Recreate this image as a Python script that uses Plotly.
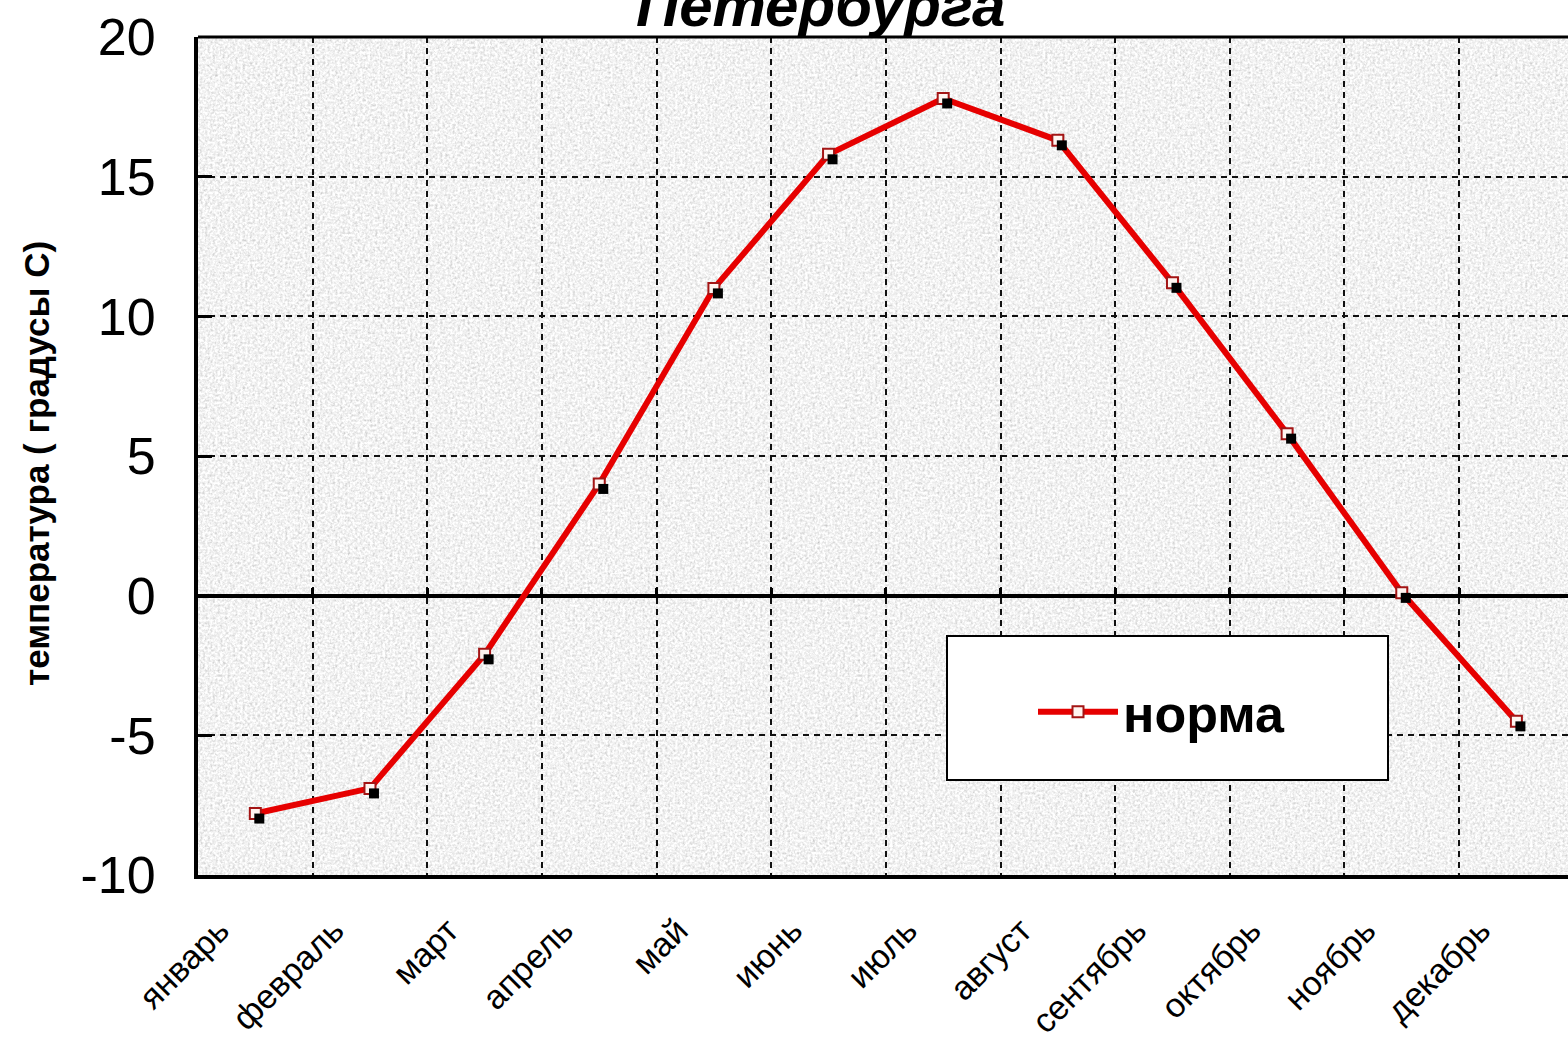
import base64
import plotly.graph_objects as go

months = ["январь", "февраль", "март", "апрель", "май", "июнь",
          "июль", "август", "сентябрь", "октябрь", "ноябрь", "декабрь"]
norma = [-7.8, -6.9, -2.1, 4.0, 11.0, 15.8, 17.8, 16.3, 11.2, 5.8, 0.1, -4.5]
y_ticks = [-10, -5, 0, 5, 10, 15, 20]
y_tick_labels = ["-10", "-5", "0", "5", "10", "15", "20"]
series_name = "норма"
y_title = "температура ( градусы С)"
title_visible = "Петербурга"

W, H = 1568, 1059
L, T, B, R = 198, 37, 184, 0
PW, PH = W - L - R, H - T - B
X_RANGE = [-0.5, 11.45]
Y_RANGE = [-10, 20]
px_per_cat = PW / (X_RANGE[1] - X_RANGE[0])
px_per_unit = PH / (Y_RANGE[1] - Y_RANGE[0])

FONT = "Liberation Sans, Arial, sans-serif"

# granite-like texture for the plot background
svg = (
    "<svg xmlns='http://www.w3.org/2000/svg' width='%d' height='%d'>"
    "<filter id='f' x='0' y='0' width='100%%' height='100%%'>"
    "<feTurbulence type='fractalNoise' baseFrequency='0.4' numOctaves='4' seed='7' stitchTiles='stitch'/>"
    "<feColorMatrix type='saturate' values='0'/>"
    "<feComponentTransfer>"
    "<feFuncR type='linear' slope='0.9' intercept='0.44'/>"
    "<feFuncG type='linear' slope='0.9' intercept='0.44'/>"
    "<feFuncB type='linear' slope='0.9' intercept='0.44'/>"
    "<feFuncA type='linear' slope='0' intercept='1'/>"
    "</feComponentTransfer></filter>"
    "<rect width='100%%' height='100%%' filter='url(#f)'/></svg>" % (PW, PH)
)
bg_uri = "data:image/svg+xml;base64," + base64.b64encode(svg.encode()).decode()

fig = go.Figure()

# shadow squares (offset a few px right/down via shifted overlay axes)
fig.add_trace(go.Scatter(
    x=months, y=norma, mode="markers", xaxis="x2", yaxis="y2",
    marker=dict(symbol="square", size=10, color="black"),
    showlegend=False, hoverinfo="skip"))

# main series
fig.add_trace(go.Scatter(
    x=months, y=norma, mode="lines+markers", name=series_name,
    line=dict(color="#e60000", width=6),
    marker=dict(symbol="square", size=11, color="#fff4f0",
                line=dict(color="#a31515", width=2))))

# invisible carrier trace for the tick marks along the zero line
fig.add_trace(go.Scatter(
    x=months, y=norma, mode="markers", xaxis="x3", yaxis="y",
    marker=dict(opacity=0), showlegend=False, hoverinfo="skip"))

dx = 4 / px_per_cat
dy = 5 / px_per_unit

grid = dict(showgrid=True, gridcolor="#111", gridwidth=2, griddash="6px,5px")

fig.update_layout(
    width=W, height=H,
    margin=dict(l=L, r=R, t=T, b=B, pad=0),
    paper_bgcolor="white", plot_bgcolor="#e2e2e2",
    font=dict(family=FONT, color="black"),
    xaxis=dict(type="category", categoryarray=months, range=X_RANGE,
               tickson="boundaries", ticks="", **grid,
               showline=True, linecolor="black", linewidth=4,
               tickangle=-45, tickfont=dict(size=34, family=FONT),
               ticklabelshift=-36, ticklabelstandoff=18,
               zeroline=False),
    yaxis=dict(range=Y_RANGE, tickvals=y_ticks, ticktext=y_tick_labels, **grid,
               showline=True, linecolor="black", linewidth=4,
               ticks="inside", ticklen=14, tickwidth=3, tickcolor="black",
               tickfont=dict(size=52, family=FONT), ticklabelstandoff=28,
               zeroline=True, zerolinecolor="black", zerolinewidth=4),
    xaxis2=dict(type="category", categoryarray=months, overlaying="x",
                range=[X_RANGE[0] - dx, X_RANGE[1] - dx], visible=False),
    yaxis2=dict(overlaying="y", range=[Y_RANGE[0] + dy, Y_RANGE[1] + dy],
                visible=False),
    xaxis3=dict(type="category", categoryarray=months, overlaying="x",
                range=X_RANGE, anchor="free",
                position=(0 - Y_RANGE[0]) / (Y_RANGE[1] - Y_RANGE[0]),
                tickson="boundaries", ticks="inside", ticklen=8, tickwidth=3,
                tickcolor="black", showticklabels=False, showgrid=False,
                showline=False, zeroline=False),
    showlegend=True,
    legend=dict(x=(1033 - L) / PW, y=(H - B - 712) / PH,
                xanchor="left", yanchor="middle",
                bgcolor="rgba(0,0,0,0)", borderwidth=0,
                font=dict(size=52, family=FONT, weight="bold"),
                itemwidth=80),
    images=[dict(source=bg_uri, xref="paper", yref="paper", x=0, y=1,
                 sizex=1, sizey=1, sizing="stretch", layer="below")],
    shapes=[
        dict(type="rect", xref="paper", yref="paper",
             x0=(947 - L) / PW, x1=(1388 - L) / PW,
             y0=(H - B - 780) / PH, y1=(H - B - 636) / PH,
             fillcolor="white", line=dict(color="black", width=2),
             layer="above"),
        dict(type="line", xref="paper", yref="paper", x0=0, x1=1, y0=1, y1=1,
             line=dict(color="black", width=3)),
    ],
    annotations=[
        dict(text=y_title, xref="paper", yref="paper",
             x=(36 - L) / PW, y=(H - B - 464) / PH, textangle=-90,
             showarrow=False, xanchor="center", yanchor="middle",
             font=dict(size=35, family=FONT, weight="bold")),
        dict(text=title_visible, xref="paper", yref="paper",
             x=(820 - L) / PW, y=1 - 4.0 / PH, showarrow=False,
             xanchor="center", yanchor="bottom",
             font=dict(size=60, family=FONT, weight="bold", style="italic")),
    ],
)

fig.write_html("out.html", config={"displayModeBar": False},
               post_script="document.body.style.margin='0px';")
